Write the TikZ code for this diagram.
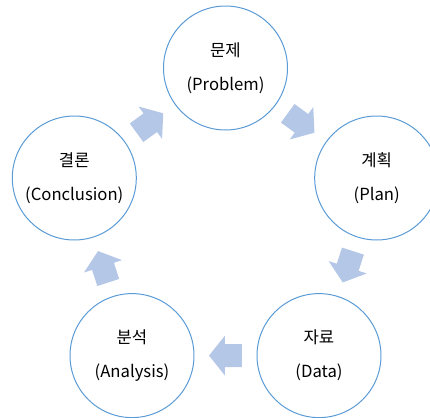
\documentclass[tikz,border=0pt]{standalone}
\usepackage{fontspec}
\setmainfont{Noto Sans CJK KR}
\usetikzlibrary{calc}

\definecolor{ringblue}{RGB}{91,155,213}
\definecolor{flowblue}{RGB}{180,199,231}

\tikzset{
  stage/.style={draw=ringblue, line width=0.75pt, circle, minimum size=93pt,
    inner sep=0pt, align=center, font=\fontsize{12.5}{25.5}\selectfont},
  % block arrow between two stages, pointing along the path
  flow/.pic={\fill[flowblue] (-16.5,-11.5) -- (0.5,-11.5) -- (0.5,-20) -- (16.5,0)
    -- (0.5,20) -- (0.5,11.5) -- (-16.5,11.5) -- cycle;}
}

\begin{document}
\begin{tikzpicture}[x=0.75pt,y=-0.75pt]
\clip (0,0) rectangle (430,418);

\node[stage] (problem) at (225.5,68) {문제\\(Problem)};
\node[stage] (plan) at (376.7,178) {계획\\(Plan)};
\node[stage] (data) at (319,355.6) {자료\\(Data)};
\node[stage] (analysis) at (132,355.6) {분석\\(Analysis)};
\node[stage] (conclusion) at (74.3,178) {결론\\(Conclusion)};

\path (problem) -- pic[sloped,allow upside down]{flow} (plan);
\path (plan) -- pic[sloped,allow upside down]{flow} (data);
\path (data) -- pic[sloped,allow upside down]{flow} (analysis);
\path (analysis) -- pic[sloped,allow upside down]{flow} (conclusion);
\path (conclusion) -- pic[sloped,allow upside down]{flow} (problem);

\end{tikzpicture}
\end{document}
